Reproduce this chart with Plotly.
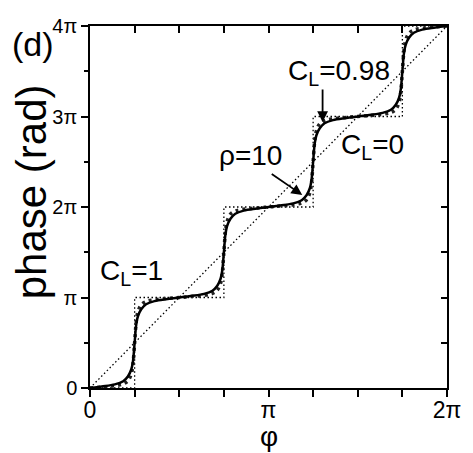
import plotly.graph_objects as go

# values in units of pi
PHI_SOLID = [0, 0.065, 0.139, 0.186, 0.213, 0.232, 0.241, 0.25, 0.259, 0.268, 0.287, 0.314, 0.361, 0.435,
             0.5, 0.565, 0.639, 0.686, 0.713, 0.732, 0.741, 0.75, 0.759, 0.768, 0.787, 0.814, 0.861, 0.935,
             1.0, 1.065, 1.139, 1.186, 1.213, 1.232, 1.241, 1.25, 1.259, 1.268, 1.287, 1.314, 1.361, 1.435,
             1.5, 1.565, 1.639, 1.686, 1.713, 1.732, 1.741, 1.75, 1.759, 1.768, 1.787, 1.814, 1.861, 1.935, 2.0]
PHASE_SOLID = [0, 0.017, 0.04, 0.075, 0.13, 0.21, 0.3, 0.5, 0.7, 0.79, 0.87, 0.925, 0.96, 0.983,
               1, 1.017, 1.04, 1.075, 1.13, 1.21, 1.3, 1.5, 1.7, 1.79, 1.87, 1.925, 1.96, 1.983,
               2, 2.017, 2.04, 2.075, 2.13, 2.21, 2.3, 2.5, 2.7, 2.79, 2.87, 2.925, 2.96, 2.983,
               3, 3.017, 3.04, 3.075, 3.13, 3.21, 3.3, 3.5, 3.7, 3.79, 3.87, 3.925, 3.96, 3.983, 4]
PHI_DASH = [0, 0.065, 0.139, 0.186, 0.213, 0.232, 0.241, 0.25, 0.259, 0.268, 0.287, 0.314, 0.361, 0.435,
            0.5, 0.565, 0.639, 0.686, 0.713, 0.732, 0.741, 0.75, 0.759, 0.768, 0.787, 0.814, 0.861, 0.935,
            1.0, 1.065, 1.139, 1.186, 1.213, 1.232, 1.241, 1.25, 1.259, 1.268, 1.287, 1.314, 1.361, 1.435,
            1.5, 1.565, 1.639, 1.686, 1.713, 1.732, 1.741, 1.75, 1.759, 1.768, 1.787, 1.814, 1.861, 1.935, 2.0]
PHASE_DASH = [0, 0.01, 0.025, 0.045, 0.08, 0.16, 0.27, 0.5, 0.73, 0.84, 0.92, 0.955, 0.975, 0.99,
              1, 1.01, 1.025, 1.045, 1.08, 1.16, 1.27, 1.5, 1.73, 1.84, 1.92, 1.955, 1.975, 1.99,
              2, 2.01, 2.025, 2.045, 2.08, 2.16, 2.27, 2.5, 2.73, 2.84, 2.92, 2.955, 2.975, 2.99,
              3, 3.01, 3.025, 3.045, 3.08, 3.16, 3.27, 3.5, 3.73, 3.84, 3.92, 3.955, 3.975, 3.99, 4]
PHI_STEP = [0, 0.25, 0.25, 0.75, 0.75, 1.25, 1.25, 1.75, 1.75, 2]
PHASE_STEP = [0, 0, 1, 1, 2, 2, 3, 3, 4, 4]
PHI_DIAG = [0, 2]
PHASE_DIAG = [0, 4]

X_TICKS = [0, 1, 2]
X_TICKTEXT = ["0", "π", "2π"]
X_MINOR = [0.25, 0.5, 0.75, 1.25, 1.5, 1.75]
X_ALL = [0, 0.25, 0.5, 0.75, 1, 1.25, 1.5, 1.75, 2]
Y_TICKS = [0, 1, 2, 3, 4]
Y_TICKTEXT = ["0", "π", "2π", "3π", "4π"]
Y_MINOR = [0.5, 1.5, 2.5, 3.5]
Y_ALL = [0, 0.5, 1, 1.5, 2, 2.5, 3, 3.5, 4]

FONT = "Liberation Sans, Arial, sans-serif"

fig = go.Figure()
fig.add_trace(go.Scatter(x=PHI_DIAG, y=PHASE_DIAG, mode="lines",
                         line=dict(color="black", width=1.3, dash="1.5px,2.5px")))
fig.add_trace(go.Scatter(x=PHI_STEP, y=PHASE_STEP, mode="lines",
                         line=dict(color="black", width=1.3, dash="1.5px,2.5px")))
fig.add_trace(go.Scatter(x=PHI_DASH, y=PHASE_DASH, mode="lines", line_shape="spline",
                         line=dict(color="#222", width=3.5, dash="3px,4px")))
fig.add_trace(go.Scatter(x=PHI_SOLID, y=PHASE_SOLID, mode="lines", line_shape="spline",
                         line=dict(color="black", width=2.5)))
fig.add_trace(go.Scatter(x=[None], y=[None], xaxis="x2", yaxis="y2", mode="lines"))

fig.update_layout(
    width=473, height=453,
    margin=dict(l=90, r=13, t=26, b=65),
    paper_bgcolor="white", plot_bgcolor="white",
    showlegend=False,
    font=dict(family=FONT, color="black"),
    xaxis=dict(range=[0, 2], tickvals=X_TICKS, ticktext=X_TICKTEXT, ticks="outside",
               ticklen=7, tickwidth=1.5, tickcolor="black", showline=True, linewidth=1.5,
               linecolor="black", showgrid=False, zeroline=False, tickfont=dict(size=23),
               ticklabelstandoff=-6, ticklabeloverflow="allow",
               minor=dict(tickvals=X_MINOR, ticks="outside", ticklen=7, tickwidth=1.5,
                          tickcolor="black", showgrid=False)),
    yaxis=dict(range=[0, 4], tickvals=Y_TICKS, ticktext=Y_TICKTEXT, ticks="outside",
               ticklen=7, tickwidth=1.5, tickcolor="black", showline=True, linewidth=1.5,
               linecolor="black", showgrid=False, zeroline=False, tickfont=dict(size=20),
               ticklabeloverflow="allow",
               minor=dict(tickvals=Y_MINOR, ticks="outside", ticklen=4, tickwidth=1.5,
                          tickcolor="black", showgrid=False)),
    xaxis2=dict(range=[0, 2], overlaying="x", side="top", anchor="y2", tickvals=X_ALL,
                ticks="inside", ticklen=7, tickwidth=1.5, tickcolor="black", showline=True,
                linewidth=1.5, linecolor="black", showticklabels=False, showgrid=False,
                zeroline=False),
    yaxis2=dict(range=[0, 4], overlaying="y", side="right", anchor="x2", tickvals=Y_ALL,
                ticks="inside", ticklen=6, tickwidth=1.5, tickcolor="black", showline=True,
                linewidth=1.5, linecolor="black", showticklabels=False, showgrid=False,
                zeroline=False),
)

ann_font = dict(family=FONT, size=28, color="black")
annots = [
    dict(text="C<sub>L</sub>=0.98", x=1.097, y=3.49, xanchor="left", yanchor="middle", font=ann_font),
    dict(text="C<sub>L</sub>=0", x=1.395, y=2.674, xanchor="left", yanchor="middle", font=ann_font),
    dict(text="ρ=10", x=0.714, y=2.564, xanchor="left", yanchor="middle", font=ann_font),
    dict(text="C<sub>L</sub>=1", x=0.043, y=1.271, xanchor="left", yanchor="middle", font=ann_font),
]
for a in annots:
    fig.add_annotation(xref="x", yref="y", showarrow=False, **a)

# arrows
fig.add_annotation(xref="x", yref="y", x=1.189, y=2.133, ax=-32, ay=-22, text="",
                   showarrow=True, arrowhead=2, arrowsize=1.2, arrowwidth=1.8, arrowcolor="black")
fig.add_annotation(xref="x", yref="y", x=1.303, y=2.939, ax=0, ay=-34, text="",
                   showarrow=True, arrowhead=2, arrowsize=1.2, arrowwidth=1.8, arrowcolor="black")

# panel label and axis titles
fig.add_annotation(xref="paper", yref="paper", x=-0.159, y=0.950, text="(d)", showarrow=False,
                   xanchor="center", yanchor="middle", font=dict(family=FONT, size=34))
fig.add_annotation(xref="paper", yref="paper", x=-0.165, y=0.541, text="phase (rad)", textangle=-90,
                   showarrow=False, xanchor="center", yanchor="middle", font=dict(family=FONT, size=42))
fig.add_annotation(xref="paper", yref="paper", x=0.5, y=-0.1796, text="φ", showarrow=False,
                   xanchor="center", yanchor="bottom", borderpad=0, font=dict(family=FONT, size=28))

fig.write_html("out.html")
